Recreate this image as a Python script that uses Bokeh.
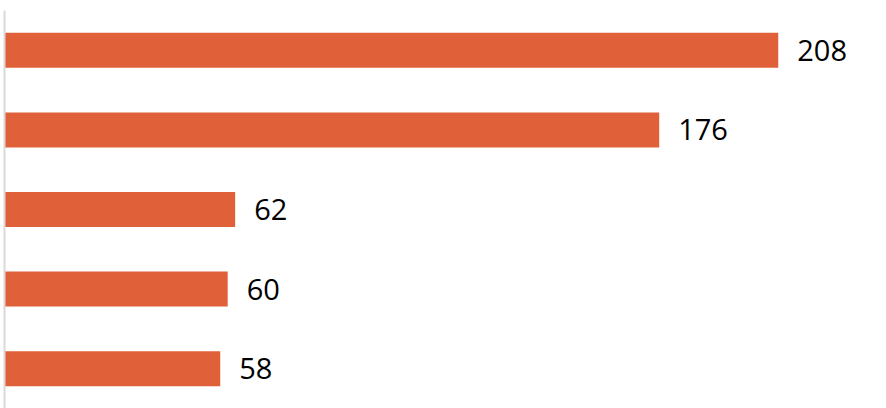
from bokeh.plotting import figure
from bokeh.models import Range1d, FactorRange, ColumnDataSource, FixedTicker
from bokeh.core.properties import value
from bokeh.embed import file_html
from bokeh.resources import INLINE

categories = ["A", "B", "C", "D", "E"]
values = [208, 176, 62, 60, 58]
labels = [str(v) for v in values]

src = ColumnDataSource(dict(cat=categories, val=values, lab=labels))

p = figure(width=886, height=408, output_backend="svg", toolbar_location=None,
           y_range=FactorRange(*reversed(categories)), x_range=Range1d(0, 237.1),
           min_border_left=4, min_border_right=0, min_border_top=10, min_border_bottom=0,
           outline_line_color=None, x_axis_location=None)

p.hbar(y="cat", right="val", left=0, height=0.44, source=src,
       fill_color="#E0603A", line_color=None)
p.text(x="val", y="cat", text="lab", source=src, x_offset=19,
       text_baseline="middle", text_align="left",
       text_font=value("Open Sans"), text_font_size="29px", text_color="#000000")

p.yaxis.ticker = FixedTicker(ticks=[])
p.yaxis.axis_line_color = "#D9D9D9"
p.yaxis.axis_line_width = 2
p.yaxis.major_tick_line_color = None
p.yaxis.minor_tick_line_color = None
p.yaxis.major_label_standoff = 0
p.yaxis.major_tick_out = 0
p.yaxis.major_tick_in = 0
p.xgrid.visible = False
p.ygrid.visible = False

open("out.html", "w").write(file_html(p, INLINE))
